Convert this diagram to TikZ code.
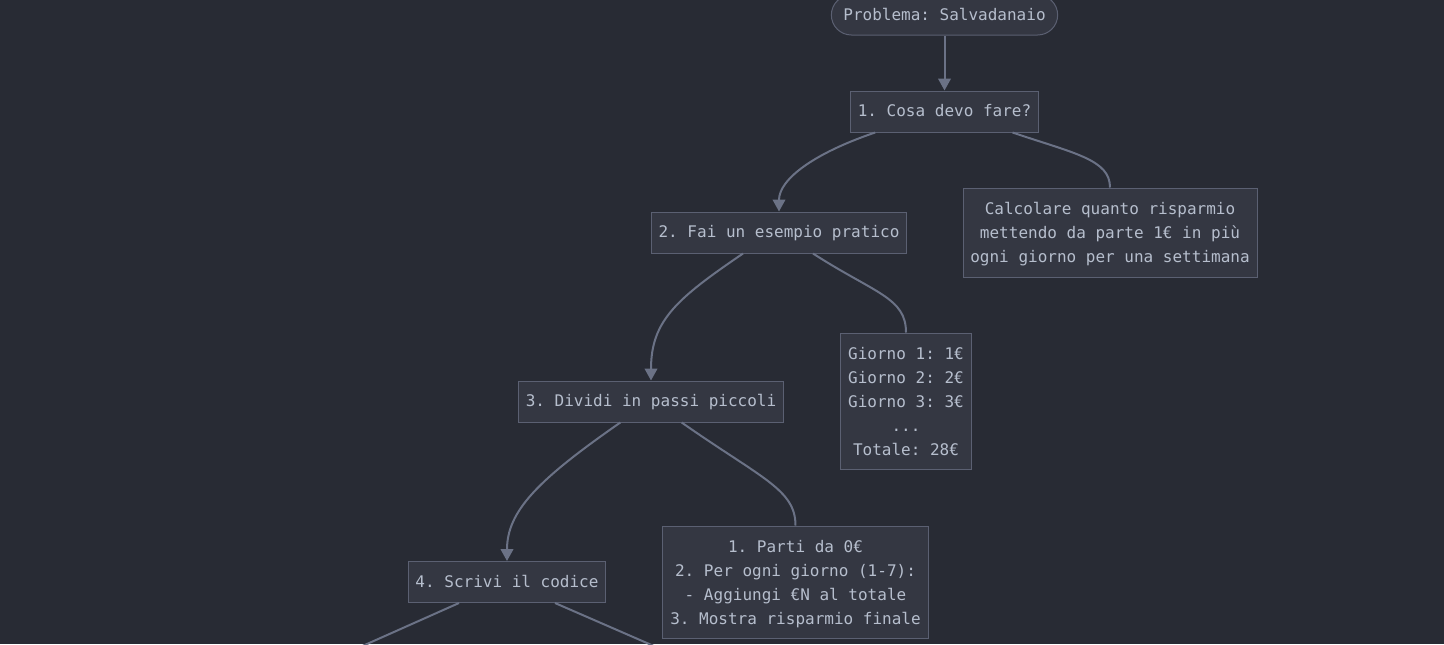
\documentclass[tikz,border=0pt]{standalone}
\usepackage{fontspec}
\setmonofont{DejaVu Sans Mono}
\usepackage{tikz}
\usetikzlibrary{arrows.meta}

\definecolor{sfondo}{HTML}{282B34}
\definecolor{riempi}{HTML}{343742}
\definecolor{bordo}{HTML}{5B6072}
\definecolor{testo}{HTML}{B6BECD}
\definecolor{tratto}{HTML}{6B7286}

\begin{document}
\begin{tikzpicture}[x=0.75pt, y=-0.75pt,
    box/.style={draw=bordo, fill=riempi, line width=0.75pt, text=testo,
      font=\ttfamily\fontsize{12}{18}\selectfont, align=center,
      inner xsep=5.5pt, inner ysep=0pt, minimum height=30.75pt},
    riga/.style={text height=11pt, text depth=2.8pt},
    righe/.style={text depth=0pt},
    freccia/.style={draw=tratto, line width=1.5pt, -{Triangle[length=9pt,width=9.5pt]}},
    ramo/.style={draw=tratto, line width=1.5pt}]

    \useasboundingbox (0, 0) rectangle (1444, 644);
    \fill[sfondo] (0, 0) rectangle (1444, 644);

    % nodi
    \node[box, riga, rounded corners=15pt, minimum height=30pt, inner xsep=9pt] (problema) at (944.5, 15) {Problema: Salvadanaio};
    \node[box, riga] (passo1) at (944.5, 111.5) {1. Cosa devo fare?};
    \node[box, riga] (passo2) at (779, 232.5) {2. Fai un esempio pratico};
    \node[box, righe, minimum height=66.75pt] (obiettivo) at (1110, 232.5) {Calcolare quanto risparmio\\mettendo da parte 1€ in più\\ogni giorno per una settimana};
    \node[box, riga] (passo3) at (651, 401.5) {3. Dividi in passi piccoli};
    \node[box, righe, minimum height=102pt] (esempio) at (906, 401) {Giorno 1: 1€\\Giorno 2: 2€\\Giorno 3: 3€\\...\\Totale: 28€};
    \node[box, riga] (passo4) at (507, 582) {4. Scrivi il codice};
    \node[box, righe, minimum height=84pt] (passi) at (795.5, 582) {1. Parti da 0€\\2. Per ogni giorno (1-7):\\- Aggiungi €N al totale\\3. Mostra risparmio finale};

    % uscite fuori pagina
    \coordinate (fuorisx) at (331, 660);
    \coordinate (fuoridx) at (686, 660);

    % collegamenti
    \draw[freccia] (problema) -- (passo1);
    \draw[freccia] ([xshift=-52pt]passo1.south) .. controls +(-62, 21) and +(0, -32) .. (passo2.north);
    \draw[ramo] ([xshift=51pt]passo1.south) .. controls +(62, 21) and +(0, -28) .. (obiettivo.north);
    \draw[freccia] ([xshift=-27pt]passo2.south) .. controls +(-66, 45) and +(0, -60) .. (passo3.north);
    \draw[ramo] ([xshift=25.5pt]passo2.south) .. controls +(62, 40) and +(0, -35) .. (esempio.north);
    \draw[freccia] ([xshift=-23pt]passo3.south) .. controls +(-82, 57) and +(0, -50) .. (passo4.north);
    \draw[ramo] ([xshift=23pt]passo3.south) .. controls +(80, 56) and +(0, -36) .. (passi.north);
    \draw[ramo] ([xshift=-36pt]passo4.south) -- (fuorisx);
    \draw[ramo] ([xshift=36pt]passo4.south) -- (fuoridx);

\end{tikzpicture}
\end{document}
